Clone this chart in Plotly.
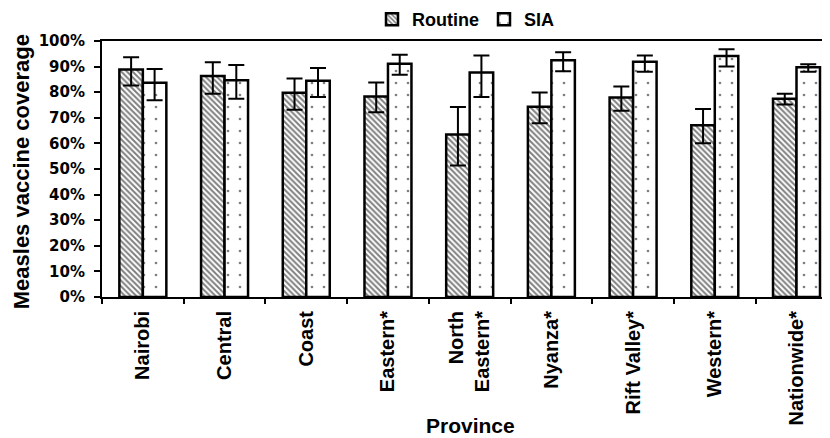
import plotly.graph_objects as go

provinces = ["Nairobi", "Central", "Coast", "Eastern*", "North<br>Eastern*",
             "Nyanza*", "Rift Valley*", "Western*", "Nationwide*"]
routine = [88.9, 86.3, 79.8, 78.3, 63.5, 74.3, 77.9, 67.1, 77.4]
routine_hi = [93.7, 91.7, 85.4, 83.8, 74.2, 79.9, 82.2, 73.4, 79.4]
routine_lo = [82.6, 79.4, 73.1, 72.2, 51.4, 67.9, 72.8, 60.1, 75.2]
sia = [83.7, 84.7, 84.5, 91.1, 87.7, 92.5, 91.9, 94.1, 89.7]
sia_hi = [89.1, 90.6, 89.5, 94.6, 94.3, 95.6, 94.3, 96.8, 90.9]
sia_lo = [76.9, 77.4, 78.1, 86.8, 78.1, 88.2, 88.0, 90.0, 88.0]
y_ticks = [0, 10, 20, 30, 40, 50, 60, 70, 80, 90, 100]
y_tick_labels = [f"{v}%" for v in y_ticks]

FONT = "Liberation Sans"
WIDE = "DejaVu Sans"

def err(v, hi, lo):
    return dict(type="data", symmetric=False,
                array=[h - x for h, x in zip(hi, v)],
                arrayminus=[x - l for l, x in zip(lo, v)],
                color="black", thickness=2, width=8)

fig = go.Figure()
fig.add_trace(go.Bar(
    name="Routine", x=provinces, y=routine,
    error_y=err(routine, routine_hi, routine_lo),
    marker=dict(color="white", line=dict(color="black", width=2.5),
                pattern=dict(shape="\\", fgcolor="black", bgcolor="white",
                             size=4, solidity=0.5, fillmode="overlay")),
))
fig.add_trace(go.Bar(
    name="SIA", x=provinces, y=sia,
    error_y=err(sia, sia_hi, sia_lo),
    marker=dict(color="white", line=dict(color="black", width=2.5),
                pattern=dict(shape=".", fgcolor="black", bgcolor="white",
                             size=12, solidity=0.04, fillmode="overlay")),
))

fig.update_layout(
    width=822, height=430,
    margin=dict(l=94, r=0, t=33, b=141, autoexpand=False),
    paper_bgcolor="white", plot_bgcolor="white",
    barmode="group", bargap=0.425, bargroupgap=0,
    font=dict(family=FONT, color="black", size=16, weight="bold"),
    showlegend=True,
    legend=dict(orientation="h", x=0.5, xanchor="center", y=1.084, yanchor="middle",
                font=dict(family=FONT, size=18, weight="bold"),
                itemwidth=30, tracegroupgap=0, bgcolor="rgba(0,0,0,0)"),
    xaxis=dict(type="category", range=[-0.5, 8.41], showline=True, linecolor="black",
               linewidth=2, mirror=True, ticks="outside", tickson="boundaries",
               ticklen=5, tickwidth=1.5, tickcolor="black", tickangle=-90,
               tickfont=dict(family=FONT, size=20, weight="bold"),
               ticklabelstandoff=4, showgrid=False, zeroline=False,
               automargin=False),
    yaxis=dict(range=[0, 100], tickmode="array", tickvals=y_ticks,
               ticktext=y_tick_labels, showline=True,
               linecolor="black", linewidth=2, ticks="outside", ticklen=6,
               tickwidth=1.5, tickcolor="black", showgrid=False, zeroline=False,
               tickfont=dict(family=WIDE, size=15, weight="bold"),
               ticklabelstandoff=6, automargin=False),
    annotations=[
        dict(text="Province", xref="paper", yref="paper", x=0.5055, y=-0.5,
             xanchor="center", yanchor="middle", showarrow=False,
             font=dict(family=FONT, size=21, weight="bold")),
        dict(text="Measles vaccine coverage", xref="paper", yref="paper",
             x=-0.111, y=0.488, xanchor="center", yanchor="middle", textangle=-90,
             showarrow=False, font=dict(family=FONT, size=22, weight="bold")),
    ],
)

fig.write_html("out.html")
